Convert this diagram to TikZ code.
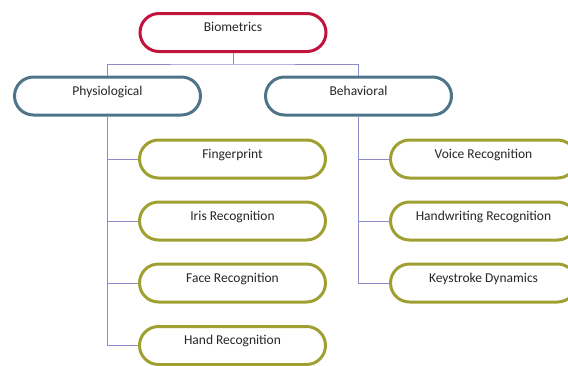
\documentclass[tikz,border=0pt]{standalone}
\usepackage{fontspec}
\setmainfont{Carlito}
\definecolor{rootred}{HTML}{C0143C}
\definecolor{groupblue}{HTML}{4E7489}
\definecolor{leafolive}{HTML}{A0A032}
\definecolor{linkblue}{HTML}{8C8CCA}
\definecolor{labelgray}{HTML}{262626}
\begin{document}
\begin{tikzpicture}[x=1pt,y=-1pt,
  pill/.style={draw, line width=3pt, fill=white, rounded corners=19pt,
    minimum width=186pt, text height=8pt, text depth=10pt, inner ysep=10pt,
    font=\fontsize{13.5}{15}\selectfont, text=labelgray},
  rootbox/.style={pill, draw=rootred},
  groupbox/.style={pill, draw=groupblue},
  leafbox/.style={pill, draw=leafolive},
  conn/.style={draw=linkblue, line width=1pt}]
\useasboundingbox (0,0) rectangle (568,365);
\clip (0,0) rectangle (568,365);

% hierarchy boxes
\node[rootbox]  (bio)  at (233,32.5)  {Biometrics};
\node[groupbox] (phys) at (107.5,96)  {Physiological};
\node[groupbox] (beh)  at (358.5,96)  {Behavioral};

\node[leafbox] (fing) at (232.5,159)   {Fingerprint};
\node[leafbox] (iris) at (232.5,221)   {Iris Recognition};
\node[leafbox] (face) at (232.5,283)   {Face Recognition};
\node[leafbox] (hand) at (232.5,345.5) {Hand Recognition};

\node[leafbox] (voice) at (483.5,159) {Voice Recognition};
\node[leafbox] (hw)    at (483.5,221) {Handwriting Recognition};
\node[leafbox] (key)   at (483.5,283) {Keystroke Dynamics};

% root to the two groups through a shared bar
\coordinate (bar) at (233,64);
\draw[conn] (bio.south) -- (bar);
\draw[conn] (phys.north) |- (bar) -| (beh.north);

% physiological branch
\draw[conn] (phys.south) |- (hand.west);
\foreach \leaf in {fing,iris,face}
  \draw[conn] (phys.south |- \leaf.west) -- (\leaf.west);

% behavioral branch
\draw[conn] (beh.south) |- (key.west);
\foreach \leaf in {voice,hw}
  \draw[conn] (beh.south |- \leaf.west) -- (\leaf.west);
\end{tikzpicture}
\end{document}
